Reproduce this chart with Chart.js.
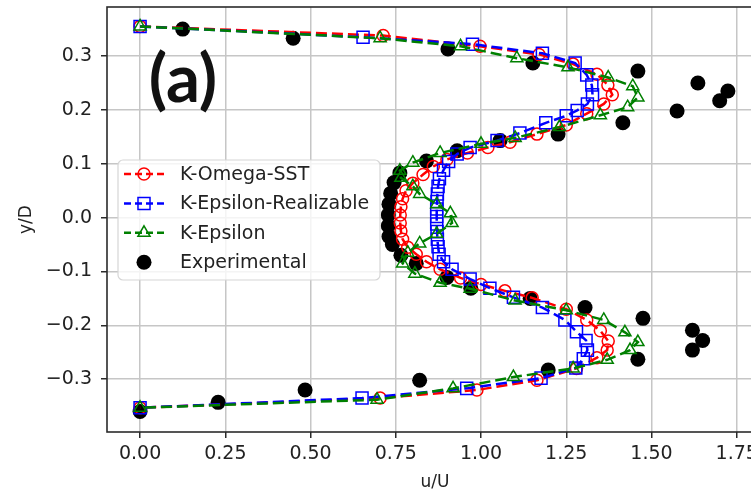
<!DOCTYPE html>
<html>
<head>
<meta charset="utf-8">
<title>Velocity profiles</title>
<script src="https://cdn.jsdelivr.net/npm/chart.js@4.4.0/dist/chart.umd.min.js"></script>
<style>
  html, body { margin: 0; padding: 0; background: #fff; overflow: hidden; }
  #wrap { width: 790px; height: 496px; margin-top: -3px; }
</style>
</head>
<body>
<div id="wrap"><canvas id="profileChart" width="790" height="496"></canvas></div>
<script>
// u/U and y/D for each turbulence model, read along the profile from top wall to bottom wall
const sstU = [0, 0.713, 0.997, 1.17, 1.27, 1.34, 1.372, 1.385, 1.36, 1.31, 1.25, 1.164, 1.085, 1.02, 0.96, 0.9, 0.86, 0.83, 0.8, 0.78, 0.77, 0.765, 0.763, 0.763, 0.765, 0.77, 0.785, 0.81, 0.84, 0.88, 0.94, 1.0, 1.07, 1.15, 1.25, 1.31, 1.35, 1.373, 1.37, 1.34, 1.28, 1.164, 0.988, 0.704, 0];
const sstY = [0.355, 0.338, 0.318, 0.303, 0.285, 0.266, 0.246, 0.228, 0.211, 0.193, 0.172, 0.155, 0.14, 0.13, 0.12, 0.108, 0.095, 0.08, 0.064, 0.05, 0.035, 0.02, 0.005, -0.01, -0.025, -0.04, -0.055, -0.068, -0.082, -0.096, -0.112, -0.124, -0.136, -0.149, -0.17, -0.19, -0.21, -0.229, -0.246, -0.26, -0.28, -0.302, -0.32, -0.335, -0.353];

const realU = [0, 0.654, 0.975, 1.18, 1.276, 1.31, 1.325, 1.327, 1.312, 1.282, 1.25, 1.19, 1.114, 1.047, 0.968, 0.93, 0.905, 0.89, 0.878, 0.874, 0.872, 0.871, 0.87, 0.87, 0.87, 0.871, 0.872, 0.874, 0.877, 0.89, 0.915, 0.968, 1.026, 1.095, 1.18, 1.246, 1.28, 1.308, 1.312, 1.3, 1.278, 1.176, 0.958, 0.651, 0];
const realY = [0.355, 0.335, 0.322, 0.305, 0.287, 0.265, 0.246, 0.228, 0.211, 0.199, 0.189, 0.176, 0.157, 0.143, 0.13, 0.118, 0.104, 0.088, 0.072, 0.058, 0.044, 0.03, 0.016, 0.002, -0.012, -0.026, -0.04, -0.054, -0.068, -0.082, -0.096, -0.114, -0.131, -0.148, -0.167, -0.19, -0.212, -0.228, -0.246, -0.262, -0.279, -0.298, -0.317, -0.335, -0.353];

const kepsU = [0, 0.704, 0.94, 1.105, 1.255, 1.373, 1.445, 1.46, 1.43, 1.35, 1.23, 1.1, 1.0, 0.88, 0.8, 0.762, 0.765, 0.8, 0.82, 0.87, 0.91, 0.915, 0.87, 0.82, 0.785, 0.77, 0.806, 0.88, 0.968, 1.1, 1.25, 1.36, 1.422, 1.46, 1.437, 1.37, 1.27, 1.095, 0.918, 0.695, 0];
const kepsY = [0.355, 0.333, 0.318, 0.296, 0.279, 0.26, 0.244, 0.223, 0.205, 0.19, 0.168, 0.148, 0.137, 0.12, 0.102, 0.087, 0.074, 0.058, 0.044, 0.025, 0.008, -0.01, -0.03, -0.048, -0.065, -0.085, -0.104, -0.121, -0.132, -0.154, -0.172, -0.19, -0.213, -0.231, -0.246, -0.264, -0.28, -0.296, -0.317, -0.338, -0.353];

const expU = [0.125, 0.449, 0.903, 1.152, 1.46, 1.636, 1.724, 1.70, 1.575, 1.416, 1.226, 1.056, 0.93, 0.84, 0.762, 0.745, 0.735, 0.73, 0.728, 0.728, 0.73, 0.74, 0.765, 0.81, 0.9, 0.97, 1.144, 1.305, 1.475, 1.62, 1.65, 1.62, 1.46, 1.197, 0.82, 0.484, 0.229, 0];
const expY = [0.35, 0.333, 0.313, 0.287, 0.272, 0.25, 0.235, 0.217, 0.198, 0.176, 0.155, 0.143, 0.124, 0.105, 0.083, 0.065, 0.045, 0.025, 0.005, -0.015, -0.035, -0.05, -0.07, -0.085, -0.111, -0.131, -0.15, -0.167, -0.187, -0.209, -0.228, -0.246, -0.263, -0.283, -0.302, -0.32, -0.343, -0.36];

const seriesNames = ["K-Omega-SST", "K-Epsilon-Realizable", "K-Epsilon", "Experimental"];

const xTickStep = 0.25;
const yTickStep = 0.1;

function toPoints(us, ys) {
  return us.map((u, i) => ({ x: u, y: ys[i] }));
}

function modelSet(label, us, ys, color, style, radius, order) {
  return {
    label: label,
    data: toPoints(us, ys),
    showLine: true,
    borderColor: color,
    borderWidth: 2.5,
    borderDash: [11, 5],
    pointStyle: style,
    pointRadius: radius,
    pointBorderWidth: 1.5,
    pointBorderColor: color,
    pointBackgroundColor: "rgba(0,0,0,0)",
    order: order
  };
}

// axes frame, the "(a)" tag and the boxed legend inside the plot
const overlay = {
  id: "overlay",
  afterDatasetsDraw(chart) {
    const ctx = chart.ctx;
    const a = chart.chartArea;
    const dy = 3; // canvas sits 3px above the page top
    ctx.save();
    ctx.strokeStyle = "#2b2b2b";
    ctx.lineWidth = 1.6;
    ctx.strokeRect(a.left, a.top, a.right - a.left, a.bottom - a.top);

    ctx.fillStyle = "#111";
    ctx.font = "bold 67px Lato";
    ctx.textAlign = "center";
    ctx.textBaseline = "middle";
    ctx.fillText("(a)", 183, 80 + dy);

    // legend
    ctx.beginPath();
    ctx.roundRect(118, 160 + dy, 262, 120, 5);
    ctx.fillStyle = "rgba(255,255,255,0.8)";
    ctx.fill();
    ctx.strokeStyle = "#d6d6d6";
    ctx.lineWidth = 1.2;
    ctx.stroke();

    ctx.textAlign = "left";
    ctx.font = "19px 'DejaVu Sans'";
    chart.data.datasets.forEach((ds, i) => {
      const y = 174 + dy + i * 29.4;
      if (ds.showLine) {
        ctx.setLineDash([7, 4]);
        ctx.strokeStyle = ds.borderColor;
        ctx.lineWidth = ds.borderWidth;
        ctx.beginPath();
        ctx.moveTo(124, y);
        ctx.lineTo(164, y);
        ctx.stroke();
        ctx.setLineDash([]);
        ctx.strokeStyle = ds.pointBorderColor;
        ctx.fillStyle = ds.pointBackgroundColor;
        ctx.lineWidth = ds.pointBorderWidth;
        Chart.helpers.drawPoint(ctx, {
          pointStyle: ds.pointStyle, radius: ds.pointRadius, rotation: 0, borderWidth: ds.pointBorderWidth
        }, 144, y);
      } else {
        ctx.fillStyle = ds.pointBackgroundColor;
        ctx.beginPath();
        ctx.arc(144, y, ds.pointRadius, 0, Math.PI * 2);
        ctx.fill();
      }
      ctx.fillStyle = "#222";
      ctx.fillText(ds.label, 180, y + 1);
    });
    ctx.restore();
  }
};

const ctx = document.getElementById("profileChart").getContext("2d");
new Chart(ctx, {
  type: "scatter",
  data: {
    datasets: [
      modelSet(seriesNames[0], sstU, sstY, "#ff0000", "circle", 6, 3),
      modelSet(seriesNames[1], realU, realY, "#0000ff", "rect", 8.5, 2),
      modelSet(seriesNames[2], kepsU, kepsY, "#008000", "triangle", 7, 1),
      {
        label: seriesNames[3],
        data: toPoints(expU, expY),
        showLine: false,
        pointStyle: "circle",
        pointRadius: 7.5,
        pointBorderWidth: 0,
        pointBackgroundColor: "#000",
        pointBorderColor: "#000",
        order: 4
      }
    ]
  },
  options: {
    responsive: false,
    animation: false,
    devicePixelRatio: 1,
    layout: { padding: { top: 2, right: 27, left: 0, bottom: 0 } },
    plugins: {
      legend: { display: false },
      tooltip: { enabled: false }
    },
    scales: {
      x: {
        type: "linear",
        min: -0.097,
        max: 1.827,
        afterFit: (scale) => { scale.height = 61; scale.paddingLeft = 0; scale.paddingRight = 0; },
        border: { display: false },
        grid: { color: "#c6c6c6", lineWidth: 1.5, tickColor: "#2b2b2b", tickLength: 6, tickWidth: 1.5 },
        ticks: {
          stepSize: xTickStep,
          includeBounds: false,
          maxRotation: 0,
          autoSkip: false,
          padding: 5,
          color: "#222",
          font: { family: "DejaVu Sans", size: 19 },
          callback: (v) => v.toFixed(2)
        },
        title: {
          display: true,
          text: "u/U",
          color: "#222",
          font: { family: "DejaVu Sans", size: 17 },
          padding: { top: 0, bottom: 0 }
        }
      },
      y: {
        type: "linear",
        min: -0.398,
        max: 0.391,
        afterFit: (scale) => { scale.width = 107; scale.paddingTop = 0; scale.paddingBottom = 0; },
        border: { display: false },
        grid: { color: "#c6c6c6", lineWidth: 1.5, tickColor: "#2b2b2b", tickLength: 6, tickWidth: 1.5 },
        ticks: {
          stepSize: yTickStep,
          includeBounds: false,
          padding: 9,
          color: "#222",
          font: { family: "DejaVu Sans", size: 19 },
          callback: (v) => {
            if (Math.abs(v) < 1e-9) v = 0;
            return (v < 0 ? "\u2212" : "") + Math.abs(v).toFixed(1);
          }
        },
        title: {
          display: true,
          text: "y/D",
          color: "#222",
          font: { family: "DejaVu Sans", size: 17 },
          padding: { top: 16, bottom: 0 }
        }
      }
    }
  },
  plugins: [overlay]
});
</script>
</body>
</html>
